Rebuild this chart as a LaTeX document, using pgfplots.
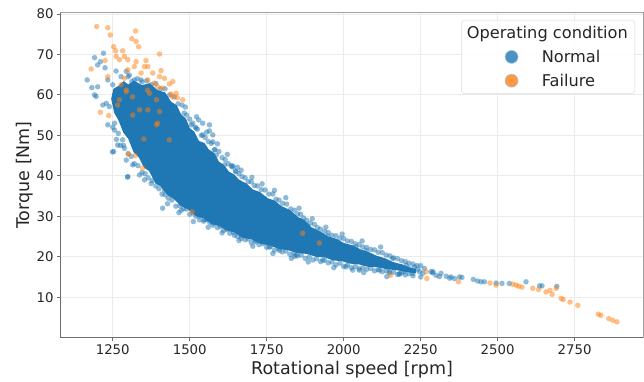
\documentclass[border=0pt]{standalone}
\usepackage{pgfplots}
\pgfplotsset{compat=1.18}
\usepackage{fontspec}
\setmainfont{DejaVu Sans}
\definecolor{cblue}{HTML}{1F77B4}
\definecolor{corange}{HTML}{FF7F0E}
\definecolor{gridc}{HTML}{EBEBEB}
\definecolor{spine}{HTML}{A0A0A0}
\definecolor{spinedark}{HTML}{6E6E6E}
\definecolor{txt}{HTML}{262626}
\begin{document}
\begin{tikzpicture}
\begin{axis}[
 scale only axis, width=582pt, height=324pt,
 xmin=1082, xmax=2972, ymin=0.16, ymax=80.24,
 clip=false,
 xtick={1250,1500,...,2750}, ytick={10,20,...,80},
 tick pos=left, tick align=outside, major tick length=4pt,
 tick style={color=spinedark, line width=0.8pt},
 grid=major, major grid style={color=gridc, line width=0.8pt},
 axis line style={color=spine, line width=1pt},
 /pgf/number format/assume math mode=true,
 /pgf/number format/1000 sep={},
 scaled ticks=false,
 ticklabel style={font=\fontsize{13.3}{16}\selectfont, text=txt},
 label style={font=\fontsize{17.5}{21}\selectfont, text=txt},
 xlabel={Rotational speed [rpm]}, ylabel={Torque [Nm]},
 ylabel shift=-3pt,
 legend cell align=left,
 legend style={at={(rel axis cs:0.9863,0.9784)}, anchor=north east,
   font=\fontsize{16.2}{19}\selectfont, text=txt,
   draw=black!15, rounded corners=3pt, fill=white, fill opacity=0.8, text opacity=1,
   inner xsep=6pt, inner ysep=5pt, row sep=8pt, nodes={inner sep=1pt}},
 scatterblue/.style={only marks, mark=*, mark size=2.75pt, color=cblue, line width=0pt,
   mark options={fill=cblue, fill opacity=0.5, draw opacity=0}},
 scatterorange/.style={only marks, mark=*, mark size=2.75pt, color=corange, line width=0pt,
   mark options={fill=corange, fill opacity=0.5, draw opacity=0}},
]
% dense core
\addplot[fill=cblue, draw=none, forget plot] coordinates {
(1245,59) (1252,61.5) (1268,62.2) (1285,63.4) (1300,62.6) (1320,63.5) (1345,62.4) (1370,62.9) (1395,61.2)
(1420,60.6) (1440,58.3) (1458,57.4) (1472,55.2) (1488,54.1) (1500,51.8) (1515,50.9) (1530,48.6) (1548,48.1)
(1562,46.5) (1580,45.6) (1595,43.5) (1612,42.6) (1628,41.0) (1645,40.3) (1662,38.9) (1685,38.1) (1705,36.6)
(1728,36.0) (1752,34.5) (1775,33.9) (1800,32.4) (1825,31.6) (1850,29.9) (1872,29.1) (1895,27.3) (1920,26.4)
(1950,25.0) (1978,24.4) (2000,23.4) (2030,22.8) (2055,21.8) (2080,21.2) (2105,20.3) (2135,19.6) (2160,18.7)
(2190,18.1) (2215,17.3) (2235,17.0)
(2235,15.9) (2205,16.2) (2170,16.7) (2140,16.9) (2110,17.4) (2080,17.5) (2050,18.1) (2020,18.3) (1995,18.9)
(1965,19.1) (1940,19.8) (1910,20.0) (1880,20.7) (1850,20.9) (1820,21.6) (1790,21.9) (1760,22.8) (1730,23.2)
(1700,24.3) (1672,24.7) (1645,26.0) (1620,26.5) (1595,27.6) (1570,28.1) (1545,29.5) (1520,30.0) (1495,31.7)
(1470,32.6) (1448,34.3) (1428,35.2) (1405,37.4) (1388,38.2) (1368,41.2) (1352,42.0) (1335,44.5) (1318,45.8)
(1300,49.2) (1285,50.6) (1268,53.8) (1255,55.5)
} -- cycle;
% normal
\addplot[scatterblue, forget plot] table {
X Y
1220 70.3
1191 69.2
1210 68.2
1201 67.4
1225 66.7
1167 63.7
1182 61.8
1201 62.0
1234 63.7
1261 65.9
1294 65.8
1277 64.5
1304 64.9
1250 62.5
1320 63.7
1342 63.7
1191 60.0
1196 59.6
1229 57.9
1218 57.5
1239 57.1
1234 52.6
1256 51.3
1266 47.6
1253 46.0
1282 48.9
1288 46.8
1294 43.9
1315 42.7
1299 39.8
1337 40.2
1353 39.0
1375 38.1
1418 36.5
1440 35.7
1412 32.0
1298 39.7
1249 45.9
1529 53.8
1542 53.0
1521 51.8
1505 52.6
1564 52.6
1564 51.1
1575 50.1
1542 50.1
1575 48.4
1580 46.4
1586 45.1
1613 42.7
1638 42.2
1667 41.4
1650 41.0
1661 38.4
1640 42.4
1694 36.1
1743 34.4
1748 33.3
1802 31.7
1824 30.3
1883 27.6
1948 25.1
2040 22.4
2073 21.5
2159 19.6
2290 16.3
1472 31.5
1532 29.1
1548 29.1
1575 27.8
1645 25.3
1667 24.5
1716 23.7
1759 22.4
1791 21.6
1846 20.4
1840 20.1
1932 19.2
2008 17.5
2029 16.7
2051 16.7
2116 16.7
2148 16.3
2181 15.7
1300 64.5
1330 64
1360 63.5
1390 62.8
1420 61.5
1450 59.5
1475 57.5
1490 55
1510 53
1525 51.5
1550 49.5
1570 48
1595 46
1615 44
1635 42.5
1660 40.5
1680 39.5
1700 38.5
1720 37.5
1745 36.5
1770 35.5
1790 34
1815 33
1840 31.5
1860 30.5
1880 29
1905 28
1925 26.8
1950 26
1975 25.2
2000 24.5
2025 23.8
2050 23
2075 22.3
2100 21.7
2125 21
2150 20.2
2175 19.5
2200 18.8
2225 18.2
2250 17.8
1250 52
1262 49
1275 47.5
1300 45.5
1320 43
1345 40.8
1365 39.5
1390 37.5
1410 35.5
1430 34.5
1455 32.5
1480 31.8
1500 30.5
1520 30
1545 28.8
1565 28.5
1590 27.2
1610 26.5
1630 25.8
1655 25
1680 24.2
1700 23.5
1725 23
1750 22.3
1775 21.6
1800 21.2
1825 20.6
1850 20.2
1875 19.6
1900 19.2
1925 18.8
1950 18.5
1975 18.0
2000 17.6
2025 17.3
2050 17.0
2075 16.9
2100 16.5
2125 16.3
2150 16.0
2175 15.6
2200 15.5
2225 15.3
2250 15.0
1312 63.3
1345 63.2
1375 62.5
1405 61.5
1435 60
1462 57.8
1482 55.5
1500 54
1518 52
1538 50
1560 48.5
1582 46.5
1605 44.5
1625 43
1648 41.2
1670 39.8
1690 38.6
1710 37.6
1732 36.6
1757 35.5
1780 34.2
1802 33.2
1828 31.8
1850 30.6
1870 29.6
1892 28.3
1915 27.2
1938 26.2
1962 25.3
1988 24.6
2012 23.9
2037 23.2
2062 22.4
2088 21.8
2112 21.1
2138 20.4
2162 19.7
2188 19
2212 18.4
2238 17.8
1256 53
1268 50.5
1285 47.5
1310 44.8
1332 42.5
1355 40.5
1378 38.8
1400 36.8
1420 35.3
1442 34
1468 32.6
1490 31.8
1510 30.8
1532 30
1555 29.2
1578 28.3
1600 27.5
1620 26.7
1642 26
1668 25.2
1690 24.4
1712 23.9
1738 23.2
1762 22.5
1788 22
1812 21.4
1838 20.9
1862 20.4
1888 19.9
1912 19.5
1938 19.1
1962 18.7
1988 18.4
2012 18
2038 17.6
2062 17.3
2088 17.1
2112 16.8
2138 16.5
2162 16.2
2188 16
2212 15.8
2186 17.5
2197 16.3
2213 17.1
2230 17.5
2246 16.3
2262 17.1
2284 16.3
2300 15.4
2316 15.9
2333 15.2
2349 15.0
2360 14.6
2376 15.0
2384 14.9
2421 14.4
2435 14.0
2446 13.8
2457 13.8
2495 13.5
2514 13.4
2538 13.4
2592 13.8
2636 12.8
2644 12.8
2692 12.7
2181 15.8
2203 17.9
2224 15.9
2240 16.9
2257 15.9
2289 16.0
2311 15.1
2344 14.7
1486 57.0
1522 54.6
1555 50.8
1590 47.9
1622 45.3
1655 42.1
1702 39.6
1735 38.0
1775 36.4
1812 34.6
1855 32.0
1898 29.4
1942 27.3
1995 25.6
2060 23.9
2120 22.4
1428 33.1
1465 30.9
1512 28.7
1560 27.3
1605 25.9
1660 24.0
1705 22.6
1770 20.8
1830 19.6
1885 18.7
1968 17.3
2065 16.1
2140 15.1
};
% failure
\addplot[scatterorange, forget plot] table {
X Y
1198 76.9
1234 76.6
1242 74.8
1324 75.8
1312 73.9
1326 73.2
1334 71.9
1253 71.9
1259 70.9
1282 70.9
1261 69.5
1288 69.5
1272 68.7
1299 68.7
1326 68.2
1358 68.5
1402 70.1
1225 68.5
1180 66.4
1320 67.0
1353 67.0
1364 67.0
1299 66.2
1342 65.4
1380 65.4
1407 66.0
1402 64.5
1418 64.1
1434 62.7
1445 63.3
1364 63.7
1385 62.9
1277 62.5
1234 64.5
1288 64.1
1412 61.7
1440 60.2
1456 60.4
1444 59.5
1460 59.3
1477 58.8
1396 62.0
1369 60.4
1294 60.8
1266 57.5
1210 55.7
1237 54.9
1301 45.3
1323 45.0
1347 41.9
1351 49.1
1315 55.0
1337 56.3
1364 56.3
1396 53.0
1434 48.9
1402 55.9
1392 58.8
1314 59.5
1294 61.2
1272 58.8
1363 61.2
1392 52.6
1508 31.1
1867 25.8
1921 23.4
2152 15.4
2268 16.3
2270 14.6
2373 13.8
2475 13.5
2495 13.0
2549 13.2
2560 13.0
2568 12.7
2579 12.5
2614 12.2
2633 11.9
2657 11.3
2670 11.7
2677 10.7
2690 12.2
2706 9.7
2713 9.4
2735 8.8
2760 8.0
2827 5.8
2835 5.5
2861 4.7
2874 4.3
2887 3.9
};
\draw[spinedark, line width=1pt] (rel axis cs:0,1) -- (rel axis cs:0,0) -- (rel axis cs:1,0);
\addlegendimage{empty legend}
\addlegendentry{\hspace*{-75pt}Operating condition}
\addlegendimage{legend image code/.code={\path (0pt,-6.5pt) (73pt,6.5pt); \fill[cblue, draw=white!60!cblue, line width=0.6pt] (44pt,0pt) circle (6.5pt);}}
\addlegendentry{Normal}
\addlegendimage{legend image code/.code={\path (0pt,-6.5pt) (73pt,6.5pt); \fill[corange, draw=white!60!cblue, line width=0.6pt] (44pt,0pt) circle (6.5pt);}}
\addlegendentry{Failure}
\end{axis}
\pgfresetboundingbox
\path (-61pt,-44pt) rectangle (583pt,337pt);
\end{tikzpicture}
\end{document}
